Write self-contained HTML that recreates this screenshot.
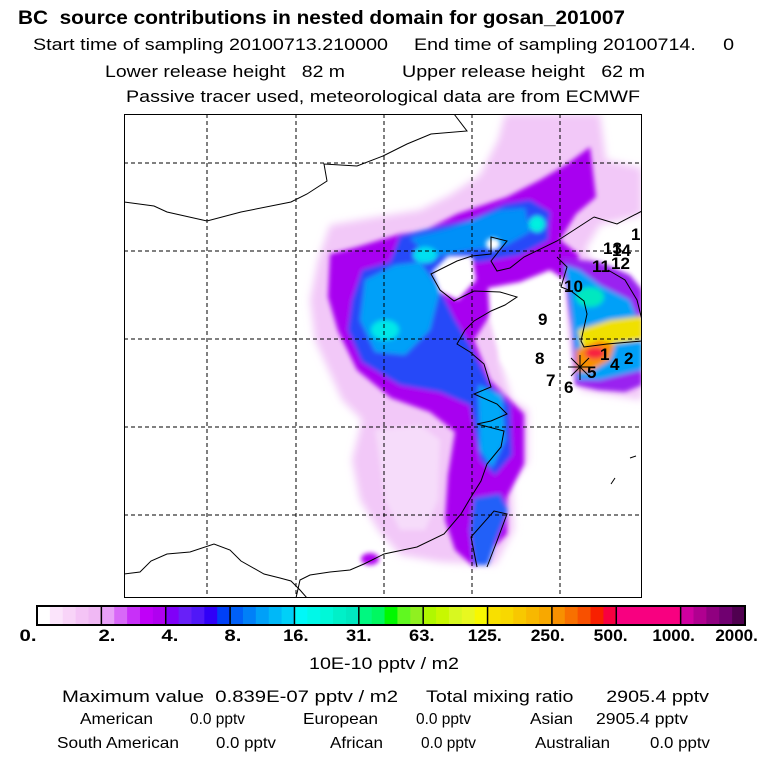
<!DOCTYPE html>
<html><head><meta charset="utf-8"><style>
html,body{margin:0;padding:0;background:#fff;}
svg{display:block;font-family:"Liberation Sans",sans-serif;}
svg text{white-space:pre;}
</style></head><body>
<svg width="768" height="768" viewBox="0 0 768 768" xml:space="preserve">
<defs>
<filter id="bl" x="-20%" y="-20%" width="140%" height="140%"><feGaussianBlur stdDeviation="4"/></filter>
<filter id="bl2" x="-20%" y="-20%" width="140%" height="140%"><feGaussianBlur stdDeviation="2.5"/></filter>
<clipPath id="mapclip"><rect x="124" y="114" width="518" height="484"/></clipPath>
</defs>
<g>
<text x="18" y="24" font-size="19" font-weight="bold" textLength="607" lengthAdjust="spacingAndGlyphs">BC  source contributions in nested domain for gosan_201007</text>
<text x="33" y="50" font-size="17" textLength="355" lengthAdjust="spacingAndGlyphs">Start time of sampling 20100713.210000</text>
<text x="414" y="50" font-size="17" textLength="320" lengthAdjust="spacingAndGlyphs">End time of sampling 20100714.     0</text>
<text x="105" y="77" font-size="17" textLength="240" lengthAdjust="spacingAndGlyphs">Lower release height   82 m</text>
<text x="402" y="77" font-size="17" textLength="243" lengthAdjust="spacingAndGlyphs">Upper release height   62 m</text>
<text x="126" y="102" font-size="17" textLength="514" lengthAdjust="spacingAndGlyphs">Passive tracer used, meteorological data are from ECMWF</text>
</g>
<g clip-path="url(#mapclip)">
<g>
<g filter="url(#bl)">
<path fill="#f2c8f8" d="M330,225 L370,218 L420,210 L450,195 L480,175 L498,140 L505,114 L600,114 L606,160 L642,168 L642,215 L600,225 L585,250 L600,270 L642,290 L642,400 L610,395 L580,390 L560,300 L545,290 L520,300 L512,330 L500,360 L512,400 L528,410 L528,462 L512,482 L514,530 L495,565 L440,562 L400,555 L378,530 L360,500 L352,460 L362,420 L342,400 L315,340 L310,300 L318,260 Z"/>
</g>
<g filter="url(#bl2)">
<path fill="#a800f0" d="M330,254 L357,247 L400,234 L424,231 L457,214 L507,197 L540,180 L567,164 L590,147 L596,197 L576,214 L560,240 L578,254 L582,282 L560,285 L530,295 L510,300 L490,315 L474,340 L490,380 L524,414 L524,464 L507,497 L507,534 L474,567 L455,550 L445,520 L448,475 L455,432 L430,412 L391,398 L357,370 L338,331 L328,297 Z"/>
<path fill="#9a20f0" d="M562,258 L600,262 L630,275 L642,290 L642,385 L625,392 L598,390 L575,385 L572,330 L566,295 Z"/>
<path fill="#2848f8" d="M400,236 L440,226 L470,220 L505,204 L530,200 L550,212 L548,240 L520,255 L480,262 L455,260 L440,290 L455,320 L470,345 L490,385 L510,405 L512,455 L495,475 L480,460 L470,405 L440,392 L400,385 L362,362 L348,330 L352,300 L362,270 L390,262 Z"/>
<path fill="#2060f8" d="M474,498 L500,494 L508,510 L496,540 L488,565 L474,565 L470,530 Z"/>
<path fill="#00a0f8" d="M365,280 L395,265 L420,262 L440,290 L430,330 L405,355 L375,352 L360,320 Z"/>
<path fill="#0090f8" d="M410,238 L450,228 L500,210 L525,208 L530,232 L505,246 L470,250 L430,258 Z"/>
<path fill="#00a8f8" d="M478,385 L502,395 L505,440 L492,468 L480,450 Z"/>
<path fill="#00a0f8" d="M565,265 L580,270 L600,285 L630,300 L642,330 L642,370 L600,380 L578,380 L572,320 Z"/>
<ellipse fill="#00e8e8" cx="385" cy="330" rx="14" ry="10"/>
<ellipse fill="#00e0f0" cx="425" cy="255" rx="12" ry="8"/>
<ellipse fill="#00f0e0" cx="537" cy="224" rx="8" ry="8"/>
<ellipse fill="#00e8c0" cx="590" cy="297" rx="14" ry="10"/>
<path fill="#f0e000" d="M578,330 L610,320 L642,316 L642,340 L605,345 L582,350 Z"/>
<path fill="#f89000" d="M576,350 L600,340 L615,345 L610,360 L590,372 L576,372 Z"/>
<ellipse fill="#f82040" cx="595" cy="353" rx="10" ry="6"/>
<ellipse fill="#b000f0" cx="370" cy="559" rx="9" ry="6"/>
</g>
<g filter="url(#bl2)">
<path fill="#fff" d="M432,272 L448,256 L472,256 L476,280 L458,300 L440,292 Z"/>
<path fill="#fff" d="M488,288 L520,282 L550,270 L565,280 L566,330 L566,385 L540,400 L520,385 L500,360 L490,320 Z"/>
<ellipse fill="#fff" cx="493" cy="244" rx="7" ry="6"/>
<path fill="#f6dcfa" d="M375,430 L420,425 L440,440 L438,500 L425,530 L400,530 L385,500 Z"/>
</g>
</g>
<g stroke="#000" stroke-width="1" stroke-dasharray="4,3">
<line x1="207" y1="114" x2="207" y2="598"/><line x1="296" y1="114" x2="296" y2="598"/><line x1="384" y1="114" x2="384" y2="598"/><line x1="472" y1="114" x2="472" y2="598"/><line x1="560" y1="114" x2="560" y2="598"/>
<line x1="124" y1="163" x2="642" y2="163"/><line x1="124" y1="251" x2="642" y2="251"/><line x1="124" y1="339" x2="642" y2="339"/><line x1="124" y1="427" x2="642" y2="427"/><line x1="124" y1="515" x2="642" y2="515"/>
</g>
<g fill="none" stroke="#000" stroke-width="1">
<polyline points="124,202 154,206 167,212 207,221 241,212 291,202 307,194 327,181 324,164 357,166 383,156 407,144 431,134 467,131 454,114"/>
<polyline points="594,217 557,241 524,257 510,268 497,271 491,261 507,241 491,237 491,254 472,256 457,261 431,274 440,290 454,301 474,291 500,292 517,297 505,305 491,311 474,321 465,330 457,344 470,352 484,364 491,387 474,394 497,404 507,414 491,421 477,424 504,431 501,447 487,464 481,481 471,497 461,514 444,534 417,547 384,554 364,564 350,570 330,572 310,575 300,580 296,598"/>
<polyline points="124,574 140,572 151,561 167,554 190,552 214,544 230,550 241,561 264,574 280,578 291,581 300,590 307,598"/>
<polyline points="557,257 567,267 561,287 571,291 584,301 587,314 581,341 584,347 607,344 642,341"/>
<polyline points="594,217 617,224 642,211"/>
<polyline points="608,270 625,280 637,300 642,320"/>
<polyline points="477,567 471,537 494,511 507,514 497,541 487,567"/>
<polyline points="611,484 615,478"/><polyline points="630,458 636,456"/>
</g>
<g font-size="17" font-weight="bold" fill="#000">
<text x="631" y="240">1</text><text x="612" y="256">14</text><text x="603" y="254">13</text><text x="592" y="272">11</text><text x="611" y="269">12</text>
<text x="564" y="292">10</text><text x="538" y="325">9</text><text x="535" y="364">8</text><text x="546" y="386">7</text><text x="564" y="393">6</text>
<text x="587" y="378">5</text><text x="610" y="370">4</text><text x="624" y="364">2</text><text x="600" y="360">1</text>
</g>
<g stroke="#000" stroke-width="1">
<line x1="568" y1="367" x2="592" y2="367"/><line x1="580" y1="355" x2="580" y2="380"/><line x1="571" y1="358" x2="589" y2="376"/><line x1="571" y1="376" x2="589" y2="358"/>
</g>
</g>
<rect x="124.5" y="114.5" width="517" height="483" fill="none" stroke="#000" stroke-width="1"/>
<g id="cbar"></g>
<text x="309" y="669" font-size="17" textLength="150" lengthAdjust="spacingAndGlyphs">10E-10 pptv / m2</text>
<g font-size="16">
<text x="62" y="702" font-size="17" textLength="336" lengthAdjust="spacingAndGlyphs">Maximum value  0.839E-07 pptv / m2</text>
<text x="426" y="702" font-size="17" textLength="283" lengthAdjust="spacingAndGlyphs">Total mixing ratio      2905.4 pptv</text>
<text x="80" y="724" textLength="73" lengthAdjust="spacingAndGlyphs">American</text>
<text x="190" y="724" textLength="55" lengthAdjust="spacingAndGlyphs">0.0 pptv</text>
<text x="303" y="724" textLength="75" lengthAdjust="spacingAndGlyphs">European</text>
<text x="416" y="724" textLength="55" lengthAdjust="spacingAndGlyphs">0.0 pptv</text>
<text x="530" y="724" textLength="43" lengthAdjust="spacingAndGlyphs">Asian</text>
<text x="596" y="724" textLength="92" lengthAdjust="spacingAndGlyphs">2905.4 pptv</text>
<text x="57" y="748" textLength="122" lengthAdjust="spacingAndGlyphs">South American</text>
<text x="216" y="748" textLength="60" lengthAdjust="spacingAndGlyphs">0.0 pptv</text>
<text x="330" y="748" textLength="53" lengthAdjust="spacingAndGlyphs">African</text>
<text x="421" y="748" textLength="55" lengthAdjust="spacingAndGlyphs">0.0 pptv</text>
<text x="535" y="748" textLength="75" lengthAdjust="spacingAndGlyphs">Australian</text>
<text x="650" y="748" textLength="60" lengthAdjust="spacingAndGlyphs">0.0 pptv</text>
</g>
</svg>
<script>
const tickLabels = ["0.","2.","4.","8.","16.","31.","63.","125.","250.","500.","1000.","2000."];
const segColors = [
 ["#ffffff","#fbe4fb","#f8d4f8","#f4c4f6","#f0b8f4"],
 ["#e8a0f8","#d868f8","#c830f8","#c000f8","#b000f0"],
 ["#8000f8","#6820f8","#5018f8","#3000f8","#0040f8"],
 ["#0060f8","#0080f8","#00a0f8","#00b8f8","#00d0f8"],
 ["#00f8f8","#00f8e8","#00f8d8","#00f0c8","#00e8c0"],
 ["#00f880","#00f860","#00f800","#60f820","#90f020"],
 ["#b0f800","#c8f800","#d8f820","#e8f820","#f8f800"],
 ["#f8e000","#f8d800","#f8c800","#f8b800","#f8a800"],
 ["#f89000","#f87000","#f85000","#f82000","#f80040"],
 ["#f80080","#f80080","#f80080","#f80080","#f80080"],
 ["#d000a0","#b00090","#900080","#700070","#500050"]
];
const NS="http://www.w3.org/2000/svg";
const g=document.getElementById('cbar');
const x0=37,x1=745,y0=606,h=19;
const segW=(x1-x0)/segColors.length;
segColors.forEach((cols,i)=>{
  cols.forEach((c,j)=>{
    const r=document.createElementNS(NS,'rect');
    
    
    r.setAttribute('x',x0+i*segW+j*segW/cols.length);
    r.setAttribute('y',y0);
    r.setAttribute('width',segW/cols.length+0.5);
    r.setAttribute('height',h);
    r.setAttribute('fill',c);
    g.appendChild(r);
  });
});
for(let i=0;i<=segColors.length;i++){
  const l=document.createElementNS(NS,'line');
  
  
  const x=x0+i*segW;
  l.setAttribute('x1',x);l.setAttribute('x2',x);l.setAttribute('y1',y0);l.setAttribute('y2',y0+h);
  l.setAttribute('stroke','#000');l.setAttribute('stroke-width','1.5');
  g.appendChild(l);
}
const fr=document.createElementNS(NS,'rect');


fr.setAttribute('x',x0);fr.setAttribute('y',y0);fr.setAttribute('width',x1-x0);fr.setAttribute('height',h);
fr.setAttribute('fill','none');fr.setAttribute('stroke','#000');fr.setAttribute('stroke-width','2');
g.appendChild(fr);
tickLabels.forEach((t,i)=>{
  const tx=document.createElementNS(NS,'text');
  
  
  const x=x0+i*segW;
  tx.setAttribute('x',i===0?x-9:x+7-1.4*i);
  tx.setAttribute('y',641);
  tx.setAttribute('font-size','17');
  tx.setAttribute('font-weight','bold');
  tx.setAttribute('text-anchor','middle');
  tx.setAttribute('textLength',t.length*8.5);
  tx.setAttribute('lengthAdjust','spacingAndGlyphs');
  tx.textContent=t;
  g.appendChild(tx);
});
</script>
</body></html>
